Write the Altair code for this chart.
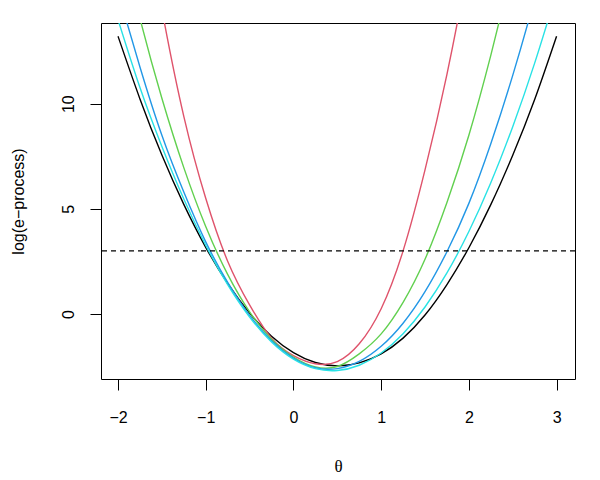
import altair as alt
import pandas as pd

# theta grid (x values)
theta = [-2, -1.75, -1.5, -1.25, -1, -0.75, -0.5, -0.25, 0, 0.25, 0.5,
         0.75, 1, 1.25, 1.5, 1.75, 2, 2.25, 2.5, 2.75, 3]

# log(e-process) curves, values
black = [13.21, 10.23, 7.56, 5.21, 3.17, 1.45, 0.04, -1.06, -1.84, -2.31, -2.47,
         -2.33, -1.9, -1.15, -0.05, 1.4, 3.15, 5.2, 7.55, 10.2, 13.21]
red = [27.5, 20.6, 14.5, 9.4, 5.5, 2.51, 0.43, -1.15, -1.98, -2.37, -2.27,
       -1.42, 0.25, 3.0, 6.85, 11.4, 16.8, 23.0, 30, 38, 47]
green = [18.36, 14.06, 10.26, 6.96, 4.16, 1.88, 0.1, -1.2, -2.05, -2.52, -2.5,
         -1.9, -0.95, 0.55, 2.6, 5.3, 8.5, 12.3, 16.5, 21, 26]
blue = [15.3, 11.75, 8.5, 5.8, 3.43, 1.5, -0.07, -1.27, -2.1, -2.56, -2.6,
        -2.26, -1.54, -0.44, 1.06, 2.96, 5.26, 8.1, 11.35, 15.0, 19.0]
cyan = [14.0, 10.77, 7.97, 5.47, 3.27, 1.39, -0.15, -1.33, -2.15, -2.6, -2.69,
        -2.44, -1.86, -0.94, 0.33, 1.95, 3.92, 6.24, 8.91, 11.93, 15.3]

threshold = [3]

x_ticks = [-2, -1, 0, 1, 2, 3]
y_ticks = [0, 5, 10]

series = [
    ("black", black, "#000000"),
    ("red", red, "#DF536B"),
    ("green", green, "#61D04F"),
    ("blue", blue, "#2297E6"),
    ("cyan", cyan, "#28E2E5"),
]

xscale = alt.Scale(domain=[-2.194, 3.21], nice=False, zero=False)
yscale = alt.Scale(domain=[-3.095, 13.84], nice=False, zero=False)

xaxis = alt.Axis(values=x_ticks, title="θ", domain=False, grid=False,
                 tickSize=11, tickColor="black", tickWidth=1,
                 labelColor="black", labelFontSize=16, labelFont="Liberation Sans",
                 labelPadding=19, labelFlush=False, labelOverlap=False,
                 titleFont="Liberation Serif", titleFontSize=17, titleFontWeight="normal",
                 titleColor="black", titleY=87, titleBaseline="middle")
yaxis = alt.Axis(values=y_ticks, title="log(e−process)", domain=False, grid=False,
                 tickSize=11, tickColor="black", tickWidth=1,
                 labelColor="black", labelFontSize=16, labelFont="Liberation Sans",
                 labelAngle=270, labelAlign="center", labelBaseline="bottom",
                 labelPadding=14, labelFlush=False, labelOverlap=False,
                 titleFont="Liberation Sans", titleFontSize=16, titleFontWeight="normal",
                 titleColor="black", titleAngle=270, titleAlign="center",
                 titleBaseline="middle", titleX=-83, titleY=178)

layers = []
for name, vals, color in series:
    df = pd.DataFrame({"theta": theta, "value": vals})
    layers.append(
        alt.Chart(df).mark_line(color=color, strokeWidth=1.4, clip=True,
                                interpolate="natural").encode(
            x=alt.X("theta:Q", scale=xscale, axis=xaxis),
            y=alt.Y("value:Q", scale=yscale, axis=yaxis),
        )
    )

rule = alt.Chart(pd.DataFrame({"value": threshold})).mark_rule(
    color="black", strokeDash=[5, 4], strokeWidth=1.2).encode(
    y=alt.Y("value:Q", scale=yscale, axis=yaxis)
)
layers.append(rule)

chart = alt.layer(*layers).properties(
    width=474, height=356,
    padding={"left": 93, "top": 15, "right": 17, "bottom": 100},
    autosize=alt.AutoSizeParams(type="none"),
    background="white",
).configure_view(stroke="black", strokeWidth=1)

chart.save("out.html", embed_options={"renderer": "svg", "actions": False})
